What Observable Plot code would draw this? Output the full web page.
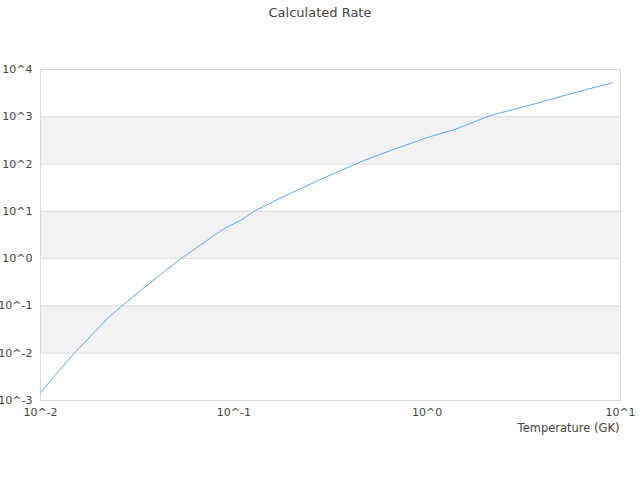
<!DOCTYPE html>
<html>
<head>
<meta charset="utf-8">
<script src="https://cdn.jsdelivr.net/npm/d3@7"></script>
<script src="https://cdn.jsdelivr.net/npm/@observablehq/plot@0.6"></script>
<style>
  body { margin: 0; background: #fff; font-family: "DejaVu Sans", sans-serif; }
  #title { height: 24px; line-height: 25px; text-align: center; font-size: 13px; color: #444; width: 640px; }
</style>
</head>
<body>
<div id="title">Calculated Rate</div>
<div id="chart"></div>
<script>
const temperature = [0.01, 0.01486, 0.02254, 0.02594, 0.0329, 0.053, 0.0647, 0.0887, 0.1081, 0.1294, 0.1811, 0.2805, 0.47, 0.70, 1.04, 1.374, 2.128, 3.707, 5.508, 9.06];
const rate = [0.00148, 0.00973, 0.0578, 0.0942, 0.2123, 0.993, 1.746, 4.28, 6.41, 10.4, 20.6, 47.2, 119, 217, 383, 531, 1064, 1936, 3062, 5236];
const xTicks = [0.01, 0.1, 1, 10];
const yTicks = [1e-3, 1e-2, 1e-1, 1, 10, 100, 1000, 10000];
const bandLow = [1e-2, 1, 100];
const bandHigh = [1e-1, 10, 1000];
const xLabel = "Temperature (GK)";

const pts = temperature.map((t, i) => ({t, r: rate[i]}));
const bands = bandLow.map((lo, i) => ({lo, hi: bandHigh[i]}));
const fmt = d => `10^${Math.round(Math.log10(d))}`;

const chart = Plot.plot({
  width: 640,
  height: 456,
  marginLeft: 40,
  marginRight: 20,
  marginTop: 45,
  marginBottom: 80,
  style: {fontFamily: "DejaVu Sans, sans-serif", fontSize: "11px", color: "#444", background: "#fff"},
  x: {type: "log", domain: [0.01, 10]},
  y: {type: "log", domain: [1e-3, 1e4]},
  marks: [
    Plot.rect(bands, {y1: "lo", y2: "hi", fill: "#f2f2f2"}),
    Plot.ruleY(yTicks, {stroke: "#dcdcdc"}),
    Plot.frame({stroke: "#dcdcdc"}),
    Plot.axisX(xTicks, {tickSize: 0, tickPadding: 8, tickFormat: fmt, label: null, fill: "#444"}),
    Plot.axisY(yTicks, {tickSize: 0, tickPadding: 8, tickFormat: fmt, label: null, fill: "#444"}),
    Plot.line(pts, {x: "t", y: "r", stroke: "#5fa8f0", strokeWidth: 1}),
    Plot.text([xLabel], {frameAnchor: "bottom-right", dy: 31, dx: -1, textAnchor: "end", fill: "#444", fontSize: 11.5})
  ]
});
document.getElementById("chart").appendChild(chart);
</script>
</body>
</html>
